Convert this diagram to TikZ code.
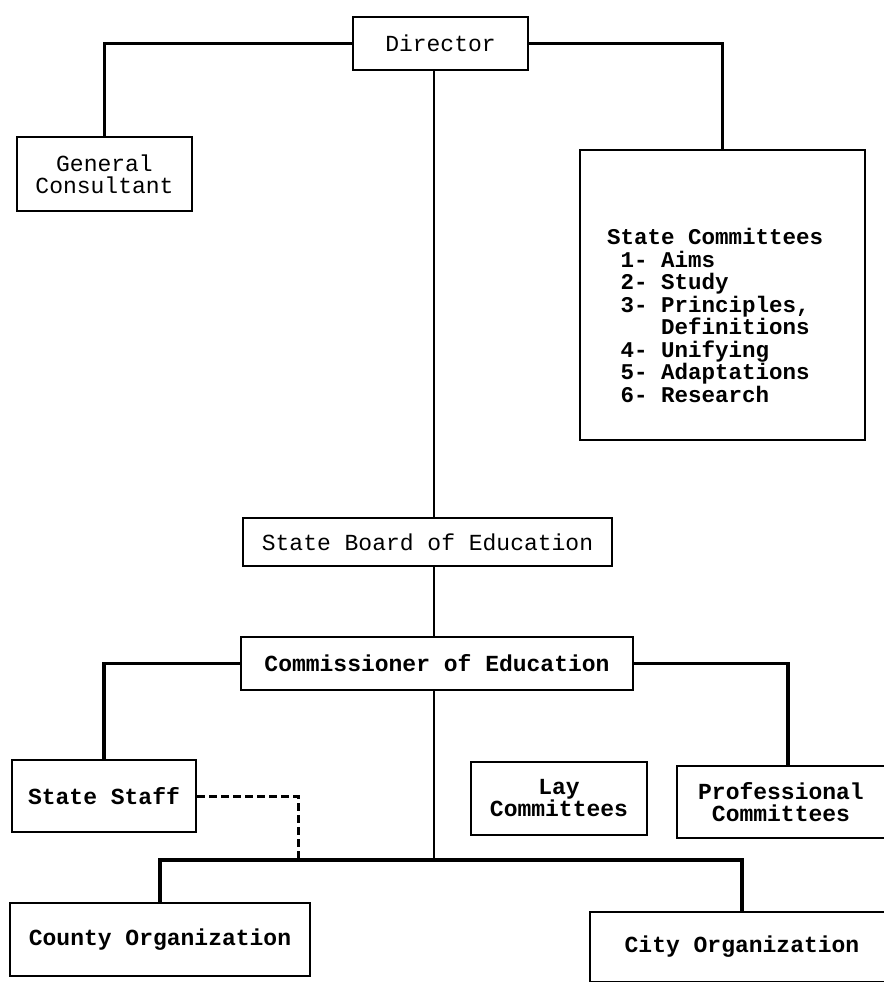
\documentclass[tikz,border=0pt]{standalone}
\usepackage{fontspec}
\setmonofont{Liberation Mono}
\begin{document}
\begin{tikzpicture}[x=1pt,y=-1pt,
  box/.style={draw, line width=2.5pt, inner sep=0pt, align=center,
    font=\ttfamily\fontsize{23}{22}\selectfont},
  boldbox/.style={box, font=\ttfamily\bfseries\fontsize{23}{22}\selectfont},
  listtext/.style={inner sep=0pt, align=left,
    font=\ttfamily\bfseries\fontsize{22.5}{22.5}\selectfont},
  conn/.style={line width=3.5pt},
  thinconn/.style={line width=2.5pt},
  dashconn/.style={line width=3pt, dash pattern=on 8pt off 4pt}]
\useasboundingbox (0,0) rectangle (883,982);
\fill[white] (0,0) rectangle (883,982);

\node[box, minimum width=175pt, minimum height=53pt] (dir) at (440.5,43.5) {Director};
\node[box, minimum width=175pt, minimum height=74pt] (gc) at (104.5,174) {General\\Consultant};
\node[box, minimum width=285pt, minimum height=290pt] (sc) at (722.5,295) {};
\node[listtext, anchor=north west] (sctext) at (607,228)
  {State Committees\\
   \ 1- Aims\\
   \ 2- Study\\
   \ 3- Principles,\\
   \ \ \ \ Definitions\\
   \ 4- Unifying\\
   \ 5- Adaptations\\
   \ 6- Research};
\node[box, minimum width=369pt, minimum height=48pt] (sb) at (427.5,542) {State Board of Education};
\node[boldbox, minimum width=392pt, minimum height=53pt] (com) at (437,663.5) {Commissioner of Education};
\node[boldbox, minimum width=184pt, minimum height=72pt] (staff) at (104,796) {State Staff};
\node[boldbox, minimum width=176pt, minimum height=73pt] (lay) at (559,798.5) {Lay\\Committees};
\node[boldbox, minimum width=208pt, minimum height=72pt] (prof) at (781,802) {Professional\\Committees};
\node[boldbox, minimum width=300pt, minimum height=73pt] (county) at (160,939.5) {County Organization};
\node[boldbox, minimum width=304pt, minimum height=70pt] (city) at (742,947) {City Organization};

\coordinate (profTop) at (788,766);
\coordinate (bus) at (434,860);
\coordinate (dashEnd) at (298,860);

\draw[conn] (dir.west) -| (gc.north);
\draw[conn] (dir.east) -| (sc.north);
\draw[thinconn] ([xshift=-6.5pt]dir.south) -- ([xshift=-6.5pt]dir.south |- sb.north);
\draw[thinconn] ([xshift=6.5pt]sb.south) -- ([xshift=6.5pt]sb.south |- com.north);
\draw[conn] (com.west) -| (staff.north);
\draw[conn] (com.east) -| (profTop);
\draw[thinconn] ([xshift=-3pt]com.south) -- (bus);
\draw[conn] (county.north) |- (bus) -| (city.north);
\draw[dashconn] (staff.east) -| (dashEnd);
\end{tikzpicture}
\end{document}
